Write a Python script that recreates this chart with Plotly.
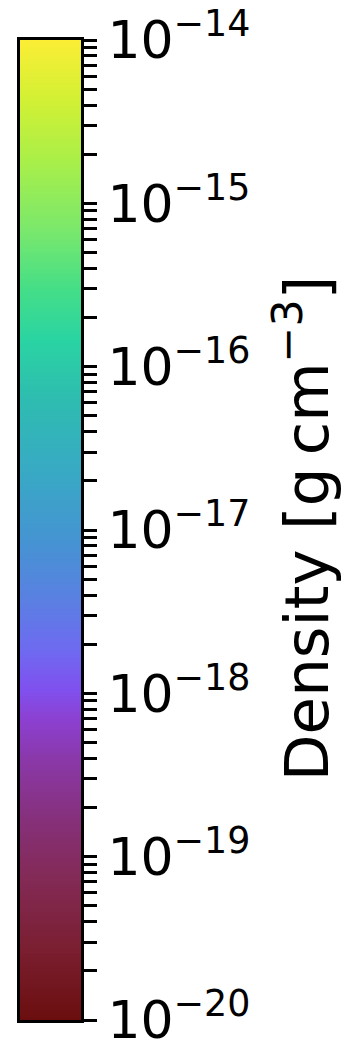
import numpy as np
import plotly.graph_objects as go

# Data: decades of density (log10 g cm^-3)
decades = [-20, -19, -18, -17, -16, -15, -14]
tick_labels = ["10<sup>\u221220</sup>", "10<sup>\u221219</sup>", "10<sup>\u221218</sup>",
               "10<sup>\u221217</sup>", "10<sup>\u221216</sup>", "10<sup>\u221215</sup>",
               "10<sup>\u221214</sup>"]
minor_mult = [2, 3, 4, 5, 6, 7, 8, 9]
title_text = "Density [g\u2009cm<sup>\u22123</sup>]"

# Colormap stops (fraction from bottom, colour)
cmap_pos = [0.0, 0.071, 0.143, 0.204, 0.265, 0.306, 0.337, 0.378, 0.429, 0.49,
            0.561, 0.633, 0.694, 0.745, 0.806, 0.878, 0.939, 1.0]
cmap_col = ["#6b0e0e", "#7a1e30", "#832a55", "#86307a", "#8a38a8", "#8c40d0",
            "#8050ee", "#6e6af0", "#5a80e2", "#4594d2", "#38aac4", "#2ebcb0",
            "#2ad4a2", "#44de88", "#7ae86c", "#aaef48", "#d2f034", "#fbee35"]

lo, hi = decades[0], decades[-1]
yv = np.linspace(lo, hi, 601)
z = [[v] for v in yv]

minor_vals = [d + np.log10(m) for d in decades[:-1] for m in minor_mult]

fig = go.Figure()
fig.add_trace(go.Heatmap(
    x=[0], y=yv, z=z, zmin=lo, zmax=hi,
    colorscale=[[p, c] for p, c in zip(cmap_pos, cmap_col)],
    showscale=False, hoverinfo="skip"))

fig.update_layout(
    width=357, height=1043,
    margin=dict(l=20, r=276, t=40, b=23, autoexpand=False),
    paper_bgcolor="white", plot_bgcolor="white",
    font=dict(family="DejaVu Sans", size=52, color="black"),
    xaxis=dict(range=[-0.5, 0.5], showticklabels=False, ticks="", showgrid=False,
               zeroline=False, showline=True, linecolor="black", linewidth=3, mirror=True,
               automargin=False),
    yaxis=dict(range=[lo, hi], side="right", tickmode="array", tickvals=decades,
               ticktext=tick_labels, ticks="outside", ticklen=13, tickwidth=2.5,
               tickcolor="black", showgrid=False, zeroline=False, showline=True,
               linecolor="black", linewidth=3, mirror=True, automargin=False,
               ticklabeloverflow="allow",
               tickfont=dict(family="DejaVu Sans", size=52, color="black"),
               minor=dict(tickvals=minor_vals, ticks="outside", ticklen=13,
                          tickwidth=2.5, tickcolor="black", showgrid=False)),
    annotations=[dict(text=title_text, textangle=-90, xref="paper", yref="paper",
                      x=(300 - 20) / 60.5, y=0.502, xanchor="center", yanchor="middle",
                      showarrow=False, font=dict(family="DejaVu Sans", size=61, color="black"))],
)

fig.write_html("out.html")
